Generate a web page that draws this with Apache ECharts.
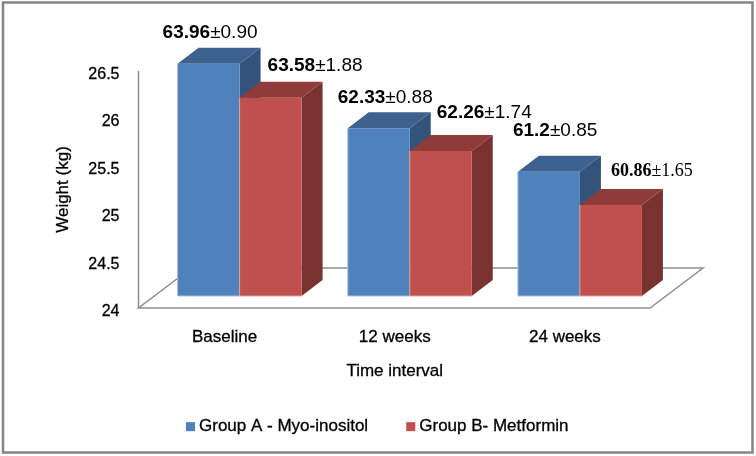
<!DOCTYPE html>
<html><head><meta charset="utf-8">
<style>html,body{margin:0;padding:0;background:#fff}#c{width:756px;height:456px}</style>
<script src="https://cdn.jsdelivr.net/npm/echarts@6/dist/echarts.min.js"></script>
</head><body><div id="c"></div>
<script>
const categories = ['Baseline', '12 weeks', '24 weeks'];
const groupA = [26.45, 25.77, 25.31];
const groupB = [26.09, 25.53, 24.96];
const labelsA = [['63.96', '0.90'], ['62.33', '0.88'], ['61.2', '0.85']];
const labelsB = [['63.58', '1.88'], ['62.26', '1.74'], ['60.86', '1.65']];
const yTicks = {min: 24, max: 26.5, interval: 0.5};

// styling
const BAR_W = 62, SHIFT_X = 15, SHIFT_Y = -12, DX = 21, DY = -16, FLOOR_DX = 53, FLOOR_DY = -40;
const labelOffsetA = [[-15, -31], [-10, -30], [-5, -41]];
const labelOffsetB = [[28, -32], [27, -38], [31, -34]];
const FONT = '"Liberation Sans", Arial, sans-serif';
const SERIF = '"Liberation Serif", "Times New Roman", serif';
const txt = {color: '#000', fontFamily: FONT, fontSize: 17, textBorderColor: '#000', textBorderWidth: 0.3};

function barRender(front, top, side, edge, texts, offsets, leftSide) {
  return function (params, api) {
    const i = api.value(0);
    const p = api.coord([i, api.value(1)]);
    const b = api.coord([i, yTicks.min]);
    const cx = p[0] + SHIFT_X;
    const x0 = leftSide ? cx - BAR_W : cx, x1 = x0 + BAR_W;
    const y0 = p[1] + SHIFT_Y, y1 = b[1] + SHIFT_Y;
    const off = offsets[i];
    const last = texts[i][0] === '60.86';
    const fam = last ? SERIF : FONT;
    const size = last ? 18 : 19;
    return {type: 'group', children: [
      {type: 'polygon', shape: {points: [[x1, y0], [x1 + DX, y0 + DY], [x1 + DX, y1 + DY], [x1, y1]]}, style: {fill: side}},
      {type: 'polygon', shape: {points: [[x0, y0], [x0 + DX, y0 + DY], [x1 + DX, y0 + DY], [x1, y0]]}, style: {fill: top}},
      {type: 'rect', shape: {x: x0, y: y0, width: BAR_W, height: y1 - y0}, style: {fill: front}},
      {type: 'polyline', shape: {points: [[x0, y0], [x0, y1], [x1, y1]]}, style: {fill: 'none', stroke: edge, lineWidth: 1}},
      {type: 'text', x: x0 + off[0], y: y0 + off[1], style: {
        text: '{b|' + texts[i][0] + '}{n|\u00b1' + texts[i][1] + '}',
        verticalAlign: 'middle', align: 'left',
        rich: {
          b: {fontFamily: fam, fontWeight: 'bold', fontSize: size, fill: '#000'},
          n: {fontFamily: fam, fontSize: size, fill: '#000'}
        }
      }}
    ]};
  };
}

function floorRender(params, api) {
  const s = params.coordSys;
  const x0 = s.x - 1, x1 = s.x + s.width, y0 = s.y + s.height, top = s.y;
  const line = {stroke: '#8e8e8e', lineWidth: 1.5, fill: 'none'};
  return {type: 'group', children: [
    {type: 'polygon', shape: {points: [[x0, y0], [x1, y0], [x1 + FLOOR_DX, y0 + FLOOR_DY], [x0 + FLOOR_DX, y0 + FLOOR_DY]]}, style: Object.assign({}, line, {fill: '#fff'})},
    {type: 'line', shape: {x1: x0, y1: y0, x2: x0, y2: top}, style: line}
  ]};
}

const chart = echarts.init(document.getElementById('c'), null, {renderer: 'canvas'});
chart.setOption({
  animation: false,
  backgroundColor: '#fff',
  graphic: [{type: 'rect', shape: {x: 3, y: 2.5, width: 749.5, height: 450}, style: {fill: 'none', stroke: '#858585', lineWidth: 2.5}, silent: true}],
  grid: {left: 139.5, right: 106, top: 71, bottom: 148, containLabel: false},
  xAxis: {type: 'category', data: categories, axisLine: {show: false}, axisTick: {show: false},
    axisLabel: Object.assign({}, txt, {margin: 21}),
    name: 'Time interval', nameLocation: 'middle', nameGap: 55, nameTextStyle: Object.assign({}, txt)},
  yAxis: {type: 'value', min: yTicks.min, max: yTicks.max, interval: yTicks.interval,
    axisLine: {show: false}, axisTick: {show: false}, splitLine: {show: false},
    axisLabel: Object.assign({}, txt, {margin: 20, fontSize: 16, verticalAlign: 'top', lineHeight: 7}),
    name: 'Weight (kg)', nameLocation: 'middle', nameGap: 68, nameTextStyle: Object.assign({}, txt)},
  legend: {left: 181, top: 413, itemWidth: 9, itemHeight: 9, itemGap: 38, icon: 'rect',
    data: ['Group A - Myo-inositol', 'Group B- Metformin'],
    textStyle: Object.assign({}, txt, {fontSize: 17, padding: [0, 0, 0, -1]})},
  series: [
    {type: 'custom', silent: true, z: 1, renderItem: floorRender, data: [[0, 24]], encode: {x: 0, y: 1}},
    {name: 'Group A - Myo-inositol', type: 'custom', z: 2, itemStyle: {color: '#4f81bd'},
      renderItem: barRender('#4f81bd', '#3d628f', '#34537a', '#a9c1de', labelsA, labelOffsetA, true),
      data: groupA.map((v, i) => [i, v]), encode: {x: 0, y: 1}},
    {name: 'Group B- Metformin', type: 'custom', z: 3, itemStyle: {color: '#c0504d'},
      renderItem: barRender('#c0504d', '#8f3b39', '#7a3230', '#dfa3a1', labelsB, labelOffsetB, false),
      data: groupB.map((v, i) => [i, v]), encode: {x: 0, y: 1}}
  ]
});
</script></body></html>
